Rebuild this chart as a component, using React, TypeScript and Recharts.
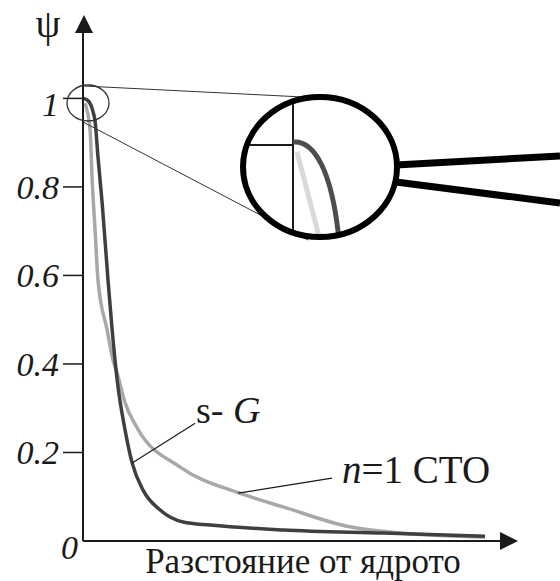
import React from 'react';
import { LineChart, Line, XAxis, YAxis, ReferenceLine } from 'recharts';

// Gaussian-type s orbital (s-G)
const gaussX = [0, 0.12, 0.24, 0.29, 0.36, 0.41, 0.46, 0.6, 0.7, 0.82, 1.01, 1.18, 1.44, 1.85, 2.4, 3.05, 4.8, 7.19, 9.64];
const gaussPsi = [1.0, 0.995, 0.97, 0.948, 0.867, 0.815, 0.763, 0.589, 0.476, 0.363, 0.25, 0.176, 0.115, 0.07, 0.043, 0.036, 0.025, 0.018, 0.011];

// Slater-type orbital, n = 1
const slaterX = [0.05, 0.17, 0.22, 0.29, 0.36, 0.58, 0.72, 0.82, 1.01, 1.29, 2.33, 3.76, 4.8, 6.4, 7.6, 9.64];
const slaterPsi = [0.989, 0.928, 0.815, 0.702, 0.589, 0.476, 0.409, 0.379, 0.312, 0.257, 0.167, 0.108, 0.077, 0.032, 0.018, 0.009];

const psiTicks = [0, 0.2, 0.4, 0.6, 0.8, 1];

const gaussData = gaussX.map((x, i) => ({ x, psi: gaussPsi[i] }));
const slaterData = slaterX.map((x, i) => ({ x, psi: slaterPsi[i] }));

const SERIF = "'Liberation Serif', 'Times New Roman', serif";
const INK = '#1a1a1a';

const serif = (size: number, italic = false): React.CSSProperties => ({
  fontFamily: SERIF,
  fontSize: size,
  fontStyle: italic ? 'italic' : 'normal',
});

const YTick = (props: any) => {
  const { y, payload } = props;
  const v = payload.value;
  const axisX = 83;
  if (v === 0) {
    return (
      <text x={axisX - 5} y={y + 18} textAnchor="end" style={serif(34, true)} fill={INK}>
        0
      </text>
    );
  }
  const dy = v === 1 ? 18 : 12;
  return (
    <g>
      <line x1={axisX - 20} x2={axisX} y1={y} y2={y} stroke={INK} strokeWidth={1.5} />
      <text x={axisX - 24} y={y + dy} textAnchor="end" style={serif(34, true)} fill={INK}>
        {String(v)}
      </text>
    </g>
  );
};

export default function App() {
  return (
    <div style={{ position: 'absolute', left: 0, top: 0, width: 560, height: 581, background: '#fff' }}>
      <LineChart width={560} height={581} margin={{ top: 32, right: 60, bottom: 0, left: 0 }}>
        <XAxis
          type="number"
          dataKey="x"
          domain={[0, 10]}
          height={40}
          tick={false}
          tickLine={false}
          axisLine={{ stroke: INK, strokeWidth: 2 }}
        />
        <YAxis
          type="number"
          dataKey="psi"
          domain={[0, 1.15]}
          ticks={psiTicks}
          interval={0}
          width={83}
          tickLine={false}
          axisLine={{ stroke: INK, strokeWidth: 2 }}
          tick={(p: any) => <YTick {...p} />}
        />
        <Line
          data={slaterData}
          dataKey="psi"
          type="monotone"
          stroke="#a8a8a8"
          strokeWidth={3.5}
          dot={false}
          isAnimationActive={false}
        />
        <Line
          data={gaussData}
          dataKey="psi"
          type="monotone"
          stroke="#3f3f3f"
          strokeWidth={3.5}
          dot={false}
          isAnimationActive={false}
        />
        <ReferenceLine
          segment={[{ x: 2.69, y: 0.266 }, { x: 1.18, y: 0.176 }]}
          stroke={INK}
          strokeWidth={1.2}
        />
        <ReferenceLine
          segment={[{ x: 5.97, y: 0.142 }, { x: 3.72, y: 0.108 }]}
          stroke={INK}
          strokeWidth={1.2}
        />
      </LineChart>

      <svg
        width={560}
        height={581}
        style={{ position: 'absolute', left: 0, top: 0, pointerEvents: 'none' }}
      >
        <defs>
          <clipPath id="lens">
            <ellipse cx={320} cy={167} rx={76} ry={69} />
          </clipPath>
        </defs>

        {/* axis arrowheads */}
        <polygon points="75,33 93,33 84,15" fill={INK} />
        <polygon points="500,532 500,550 518,541" fill={INK} />

        {/* axis titles */}
        <text x={48} y={37} textAnchor="middle" style={serif(40)} fill={INK}>
          ψ
        </text>
        <text x={303} y={573} textAnchor="middle" style={serif(35)} fill={INK}>
          Разстояние от ядрото
        </text>

        {/* curve labels */}
        <text x={196} y={423} style={serif(38)} fill={INK}>
          {'s- '}
          <tspan fontStyle="italic">G</tspan>
        </text>
        <text x={342} y={483} style={serif(39)} fill={INK}>
          <tspan fontStyle="italic">n</tspan>
          {'=1 CTO'}
        </text>

        {/* zoom on the origin */}
        <ellipse cx={88} cy={103} rx={21} ry={18} fill="none" stroke="#333" strokeWidth={1.3} />
        <line x1={84} y1={86} x2={303} y2={97} stroke="#333" strokeWidth={1} />
        <line x1={83} y1={122} x2={308} y2={240} stroke="#333" strokeWidth={1} />

        <g clipPath="url(#lens)">
          <line x1={293} y1={100} x2={293} y2={240} stroke={INK} strokeWidth={2} />
          <line x1={240} y1={145} x2={293} y2={145} stroke={INK} strokeWidth={2} />
          <path d="M 297 152 L 320 240" stroke="#d9d9d9" strokeWidth={5} fill="none" />
          <path d="M 293 142 C 314 140, 332 170, 339 240" stroke="#4d4d4d" strokeWidth={5} fill="none" />
        </g>
        <ellipse cx={320} cy={167} rx={77} ry={70} fill="none" stroke="#000" strokeWidth={6} />
        <line x1={396} y1={165} x2={560} y2={156} stroke="#000" strokeWidth={7} />
        <line x1={396} y1={182} x2={560} y2={203} stroke="#000" strokeWidth={7} />
      </svg>
    </div>
  );
}
